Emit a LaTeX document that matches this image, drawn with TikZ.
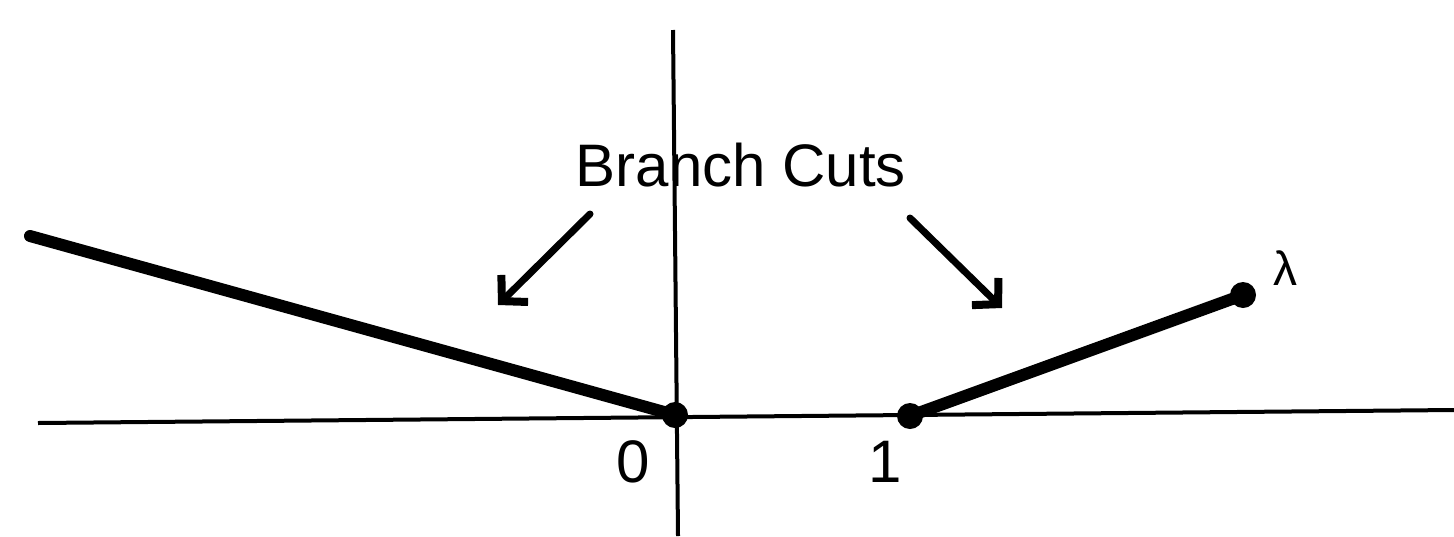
\documentclass[tikz,border=0pt]{standalone}
\usepackage{fontspec}
\setmainfont{Liberation Sans}
\usetikzlibrary{arrows.meta}
\begin{document}
\begin{tikzpicture}[x=0.5pt,y=-0.5pt,
  axisline/.style={line width=2pt},
  cutline/.style={line width=6pt,line cap=round},
  dotnode/.style={circle,fill=black,inner sep=0pt,minimum size=13pt},
  pointer/.style={line width=3.5pt,line cap=round,-{Straight Barb[length=9pt,width=19pt,line width=4pt]}},
  lbl/.style={inner sep=0pt,font=\fontsize{30}{33}\selectfont}
  ]
\useasboundingbox (0,0) rectangle (1454,536);
% axes
\coordinate (xl) at (38,423);
\coordinate (xr) at (1454,410);
\coordinate (yt) at (673,30);
\coordinate (yb) at (678,536);
\draw[axisline] (xl) -- (xr);
\draw[axisline] (yt) -- (yb);
% points
\node[dotnode] (o) at (675,415) {};
\node[dotnode] (one) at (910,416) {};
\node[dotnode] (lam) at (1243,295) {};
\coordinate (far) at (30,236);
% cuts
\draw[cutline] (far) -- (o.center);
\draw[cutline] (one.center) -- (lam.center);
% labels
\node[lbl] (bc) at (741,165) {Branch Cuts};
\node[lbl] (zero) at (633,462) {0};
\node[lbl] (onelbl) at (885,462) {1};
\node[lbl,font=\fontsize{24}{26}\selectfont] (laml) at (1285,268) {λ};
% pointers
\coordinate (a1s) at (590,214);
\coordinate (a1e) at (498,305);
\coordinate (a2s) at (910,218);
\coordinate (a2e) at (1002,308);
\draw[pointer] (a1s) -- (a1e);
\draw[pointer] (a2s) -- (a2e);
\end{tikzpicture}
\end{document}
